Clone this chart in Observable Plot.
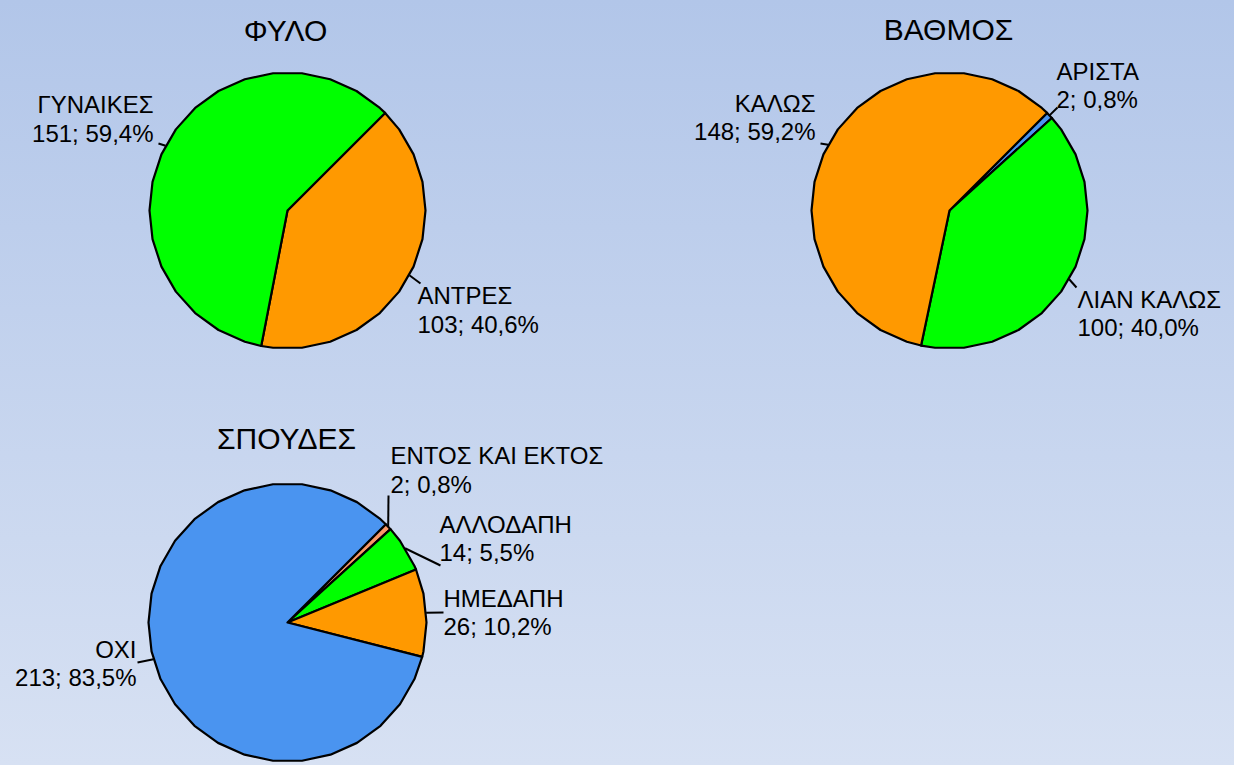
<!DOCTYPE html>
<html><head><meta charset="utf-8">
<script src="https://cdn.jsdelivr.net/npm/d3@7"></script>
<script src="https://cdn.jsdelivr.net/npm/@observablehq/plot@0.6"></script>
<style>
html,body{margin:0;padding:0;}
#wrap{position:relative;width:1234px;height:765px;overflow:hidden;background:linear-gradient(180deg,#b2c6e9 0%,#d7e1f3 100%);}
#wrap svg{position:absolute;overflow:visible;}
</style></head><body><div id="wrap"></div>
<script>
// ---- DATA ----
const titles = ["ΦΥΛΟ", "ΒΑΘΜΟΣ", "ΣΠΟΥΔΕΣ"];

const sexLabels = ["ΑΝΤΡΕΣ", "ΓΥΝΑΙΚΕΣ"];
const sexValues = [103, 151];
const sexColors = ["#ff9900", "#00ff00"];

const gradeLabels = ["ΑΡΙΣΤΑ", "ΛΙΑΝ ΚΑΛΩΣ", "ΚΑΛΩΣ"];
const gradeValues = [2, 100, 148];
const gradeColors = ["#4a94f0", "#00ff00", "#ff9900"];

const studyLabels = ["ΕΝΤΟΣ ΚΑΙ ΕΚΤΟΣ", "ΑΛΛΟΔΑΠΗ", "ΗΜΕΔΑΠΗ", "ΟΧΙ"];
const studyValues = [2, 14, 26, 213];
const studyColors = ["#f79868", "#00ff00", "#ff9900", "#4a94f0"];

// ---- LAYOUT (absolute page pixels) ----
const FONT = "'Liberation Sans', Arial, sans-serif";
const layouts = [
  { panel: [0, 0, 617, 382], cx: 287, cy: 210, r: 138, title: [285, 30.5],
    labels: [ {x: 417, y: 309, anchor: "start", lx: 420, ly: 283},
              {x: 153, y: 118, anchor: "end",   lx: 158, ly: 143} ] },
  { panel: [617, 0, 617, 382], cx: 949, cy: 210, r: 138, title: [948, 29.5],
    labels: [ {x: 1056, y: 84.5, anchor: "start", lx: 1057, ly: 107},
              {x: 1077, y: 312.5, anchor: "start", lx: 1076, ly: 287},
              {x: 815, y: 116.5, anchor: "end", lx: 820, ly: 143} ] },
  { panel: [0, 382, 617, 383], cx: 287, cy: 622, r: 139, title: [286, 439],
    labels: [ {x: 390, y: 469, anchor: "start", lx: 388, ly: 495},
              {x: 439, y: 537.5, anchor: "start", lx: 440, ly: 565},
              {x: 443, y: 611.5, anchor: "start", lx: 443, ly: 612},
              {x: 136, y: 662.5, anchor: "end", lx: 137, ly: 662} ] }
];
const START_ANGLE = 45;   // degrees clockwise from 12 o'clock
const STEP = 12, OFFSET = 6; // faceted outline like the original

const pies = [
  {title: titles[0], labels: sexLabels, values: sexValues, colors: sexColors},
  {title: titles[1], labels: gradeLabels, values: gradeValues, colors: gradeColors},
  {title: titles[2], labels: studyLabels, values: studyValues, colors: studyColors}
];

const fmtPct = v => v.toFixed(1).replace(".", ",") + "%";
const rad = a => a * Math.PI / 180;

function drawPie(pie, L) {
  const [px, py, W, H] = L.panel;
  const cx = L.cx - px, cy = L.cy - py, r = L.r;
  const ux = X => (X - px - cx) / r;
  const uy = Y => (cy - (Y - py)) / r;
  const total = d3.sum(pie.values);
  let acc = START_ANGLE;
  const slices = pie.values.map((v, i) => {
    const a0 = acc, a1 = acc + v / total * 360;
    acc = a1;
    const pts = [{x: 0, y: 0}];
    const push = a => pts.push({x: Math.sin(rad(a)), y: Math.cos(rad(a))});
    push(a0);
    let g = Math.ceil((a0 - OFFSET) / STEP) * STEP + OFFSET;
    if (g <= a0) g += STEP;
    for (; g < a1; g += STEP) push(g);
    push(a1);
    const mid = (a0 + a1) / 2;
    const lab = L.labels[i];
    return {
      pts, color: pie.colors[i],
      text: pie.labels[i] + "\n" + v + "; " + fmtPct(v / total * 100),
      tx: ux(lab.x), ty: uy(lab.y), anchor: lab.anchor,
      x1: Math.sin(rad(mid)), y1: Math.cos(rad(mid)),
      x2: ux(lab.lx), y2: uy(lab.ly)
    };
  });
  const marks = [];
  slices.forEach(s => marks.push(Plot.line(s.pts, {
    x: "x", y: "y", fill: s.color, stroke: "black", strokeWidth: 2.2,
    curve: "linear-closed", strokeLinejoin: "round"
  })));
  marks.push(Plot.link(slices, {x1: "x1", y1: "y1", x2: "x2", y2: "y2", stroke: "black", strokeWidth: 2}));
  ["start", "end"].forEach(anc => {
    marks.push(Plot.text(slices.filter(s => s.anchor === anc), {
      x: "tx", y: "ty", text: "text", textAnchor: anc, lineAnchor: "middle",
      lineHeight: 1.17, fontSize: 24, fill: "black"
    }));
  });
  marks.push(Plot.text([pie.title], {
    x: ux(L.title[0]), y: uy(L.title[1]), text: d => d, textAnchor: "middle",
    lineAnchor: "middle", fontSize: 30, fill: "black"
  }));
  const svg = Plot.plot({
    width: W, height: H, margin: 0,
    x: {domain: [(0 - cx) / r, (W - cx) / r], axis: null},
    y: {domain: [(cy - H) / r, cy / r], axis: null},
    style: {background: "transparent", fontFamily: FONT, overflow: "visible"},
    marks
  });
  svg.style.left = px + "px";
  svg.style.top = py + "px";
  return svg;
}

const wrap = document.getElementById("wrap");
pies.forEach((p, i) => wrap.appendChild(drawPie(p, layouts[i])));
</script>
</body></html>
